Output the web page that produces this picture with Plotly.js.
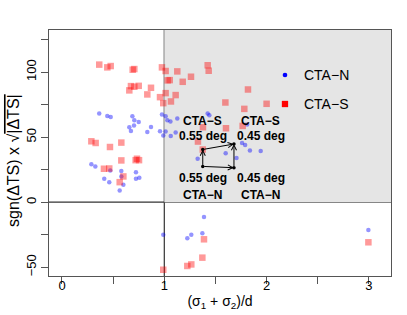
<!DOCTYPE html>
<html>
<head>
<meta charset="utf-8">
<script src="https://cdn.plot.ly/plotly-3.0.1.min.js"></script>
<style>html,body{margin:0;padding:0;background:#fff;}#chart{width:407px;height:315px;}</style>
</head>
<body>
<div id="chart"></div>
<script>
// CTA-N (blue points)
const ctaNx = [0.364,0.443,0.476,0.688,0.707,0.750,0.658,0.704,0.674,0.870,0.834,0.977,1.013,1.030,1.060,1.127,0.958,0.990,1.013,1.063,1.111,1.424,1.440,1.810,1.760,1.790,1.837,1.942,1.326,1.600,1.706,0.287,0.326,0.472,0.580,0.580,0.723,0.413,0.462,0.600,0.564,0.723,0.756,0.990,1.388,1.225,1.264,1.372,2.995];
const ctaNy = [68.1,66.3,65.5,66.1,63.0,61.7,57.6,58.9,54.7,57.8,54.0,67.4,66.1,63.0,62.0,64.3,54.5,51.2,54.3,50.9,53.5,68.1,66.8,59.7,45.5,44.0,39.8,39.3,33.4,37.6,34.0,29.1,27.5,24.4,23.9,19.8,23.1,18.0,15.4,13.4,9.0,18.0,18.8,-25.1,-11.3,-27.7,-25.1,-23.8,-21.3];
// CTA-S (red squares)
const ctaSx = [0.364,0.443,0.476,0.691,0.707,0.977,1.013,1.127,1.033,1.053,1.180,1.261,0.674,0.707,0.750,0.658,0.870,0.834,0.958,1.013,1.111,0.990,1.065,0.287,0.329,0.469,0.580,1.329,1.424,1.434,1.818,1.597,2.000,1.782,1.378,1.603,1.766,0.580,0.720,0.733,0.753,0.410,0.462,0.600,0.564,1.376,0.990,1.388,1.372,1.225,1.264,2.995];
const ctaSy = [105.7,103.6,104.6,101.8,102.3,103.6,100.8,100.5,93.6,93.8,92.5,96.4,89.2,88.7,89.4,85.9,87.9,82.8,80.7,83.8,82.3,76.1,77.4,46.8,45.5,42.4,45.8,46.6,105.2,101.0,86.6,76.6,75.6,71.7,57.6,56.8,58.6,32.1,32.3,33.4,32.3,25.7,25.9,19.8,15.4,40.5,-51.9,-28.5,-42.6,-49.0,-47.8,-30.8];
// Reference positions (arrows): CTA-N 0.55, CTA-N 0.45, CTA-S 0.55, CTA-S 0.45
const refLabels = ["CTA−N 0.55 deg","CTA−N 0.45 deg","CTA−S 0.55 deg","CTA−S 0.45 deg"];
const refX = [1.376, 1.681, 1.376, 1.681];
const refY = [27.5, 26.5, 40.5, 44.7];
// Tick labels
const xTickVals = [0,1,2,3];
const xTickText = ["0","1","2","3"];
const yTickVals = [-50,0,50,100];
const yTickText = ["−50","0","50","100"];

const xRange = [-0.127, 3.216];
const yRange = [-56.7, 132.3];
const FONT = "Liberation Sans, Arial, Helvetica, sans-serif";

const traces = [
  {x: ctaNx, y: ctaNy, type: 'scatter', mode: 'markers', name: 'CTA−N',
   marker: {symbol: 'circle', size: 4.5, color: 'rgba(0,0,255,0.42)', line: {width: 0}}, showlegend: false, hoverinfo: 'x+y'},
  {x: ctaSx, y: ctaSy, type: 'scatter', mode: 'markers', name: 'CTA−S',
   marker: {symbol: 'square', size: 6.5, color: 'rgba(255,0,0,0.4)', line: {width: 0}}, showlegend: false, hoverinfo: 'x+y'},
  {x: refX, y: refY, type: 'scatter', mode: 'markers', text: refLabels, hoverinfo: 'text',
   marker: {symbol: 'circle', size: 3.5, color: '#000'}, showlegend: false},
  // empty trace to attach the label-only x axis
  {x: [], y: [], type: 'scatter', mode: 'markers', xaxis: 'x2', yaxis: 'y', showlegend: false}
];

// arrows: N0.55 -> S0.55, S0.55 -> S0.45, N0.55 -> N0.45, N0.45 -> S0.45
const arrowPairs = [[0,2],[2,3],[0,1],[1,3]];
const annotations = arrowPairs.map(p => ({
  x: refX[p[1]], y: refY[p[1]], ax: refX[p[0]], ay: refY[p[0]],
  xref: 'x', yref: 'y', axref: 'x', ayref: 'y', text: '', showarrow: true,
  arrowhead: 5, arrowsize: 1, arrowwidth: 1, arrowcolor: '#000', standoff: 0, startstandoff: 0
}));

function lbl(txt, x, y) {
  return {x: x, y: y, xref: 'x', yref: 'y', text: '<b>' + txt + '</b>', showarrow: false,
          font: {family: FONT, size: 12, color: '#000'}, xanchor: 'center', yanchor: 'middle'};
}
annotations.push(lbl('CTA−S', refX[2], 62.5));
annotations.push(lbl('0.55 deg', refX[2], 51.2));
annotations.push(lbl('CTA−S', 1.945, 62.5));
annotations.push(lbl('0.45 deg', 1.945, 51.2));
annotations.push(lbl('0.55 deg', refX[0], 18.5));
annotations.push(lbl('CTA−N', refX[0], 5.7));
annotations.push(lbl('0.45 deg', 1.945, 18.5));
annotations.push(lbl('CTA−N', 1.945, 5.7));

// legend texts
annotations.push({x: 0.741, y: 0.817, xref: 'paper', yref: 'paper', text: 'CTA−N', showarrow: false,
  xanchor: 'left', yanchor: 'middle', font: {family: FONT, size: 14, color: '#000'}});
annotations.push({x: 0.741, y: 0.699, xref: 'paper', yref: 'paper', text: 'CTA−S', showarrow: false,
  xanchor: 'left', yanchor: 'middle', font: {family: FONT, size: 14, color: '#000'}});

// y axis title (rotated)
annotations.push({x: -0.1053, y: 0.4715, xref: 'paper', yref: 'paper', textangle: -90,
  text: "sgn(ΔTS) x √<span style='text-decoration:overline'>|ΔTS|</span>", showarrow: false,
  xanchor: 'center', yanchor: 'middle', font: {family: FONT, size: 16, color: '#000'}});

const shapes = [
  {type: 'rect', xref: 'x', yref: 'y', x0: 1, x1: xRange[1], y0: 0, y1: yRange[1],
   fillcolor: 'rgb(229,229,229)', line: {width: 0}, layer: 'below'},
  {type: 'line', xref: 'x', yref: 'paper', x0: 1, x1: 1, y0: 0, y1: 1,
   line: {color: '#333', width: 1.2}, layer: 'below'},
  {type: 'line', xref: 'paper', yref: 'y', x0: 0, x1: 1, y0: 0, y1: 0,
   line: {color: '#333', width: 1.2}, layer: 'below'},
  // legend symbols
  {type: 'circle', xref: 'paper', yref: 'paper', x0: 0.6832, x1: 0.6969, y0: 0.8075, y1: 0.8266,
   fillcolor: '#0000ff', line: {width: 0}},
  {type: 'rect', xref: 'paper', yref: 'paper', x0: 0.6808, x1: 0.6992, y0: 0.6864, y1: 0.712,
   fillcolor: '#ff0000', line: {width: 0}}
];

const layout = {
  width: 407, height: 315,
  margin: {l: 49, r: 16, t: 30, b: 39},
  paper_bgcolor: '#fff', plot_bgcolor: '#fff',
  font: {family: FONT, size: 13, color: '#000'},
  xaxis: {range: xRange, tickmode: 'array', tickvals: xTickVals, ticktext: xTickText,
    ticks: 'outside', ticklen: 7, tickcolor: '#555', tickwidth: 1, showticklabels: false,
    minor: {dtick: 0.5, tick0: 0, ticks: 'outside', ticklen: 7, tickcolor: '#555', tickwidth: 1, showgrid: false},
    showline: true, linecolor: '#555', linewidth: 1, mirror: true,
    showgrid: false, zeroline: false,
    title: {text: '(σ<sub>1</sub> + σ<sub>2</sub>)/d', font: {family: FONT, size: 14, color: '#000'}, standoff: 13}},
  xaxis2: {range: xRange, overlaying: 'x', anchor: 'y', side: 'bottom', matches: 'x',
    tickmode: 'array', tickvals: xTickVals, ticktext: xTickText, ticks: '',
    showline: false, showgrid: false, zeroline: false,
    tickfont: {family: FONT, size: 13, color: '#000'}},
  yaxis: {range: yRange, tickmode: 'array', tickvals: yTickVals, ticktext: yTickText,
    ticks: 'outside', ticklen: 7, tickcolor: '#555', tickwidth: 1, tickangle: -90,
    minor: {dtick: 25, tick0: 0, ticks: 'outside', ticklen: 7, tickcolor: '#555', tickwidth: 1, showgrid: false},
    showline: true, linecolor: '#555', linewidth: 1, mirror: true,
    showgrid: false, zeroline: false,
    tickfont: {family: FONT, size: 13, color: '#000'}},
  shapes: shapes,
  annotations: annotations,
  showlegend: false
};

Plotly.newPlot('chart', traces, layout, {staticPlot: true, displayModeBar: false});
</script>
</body>
</html>
